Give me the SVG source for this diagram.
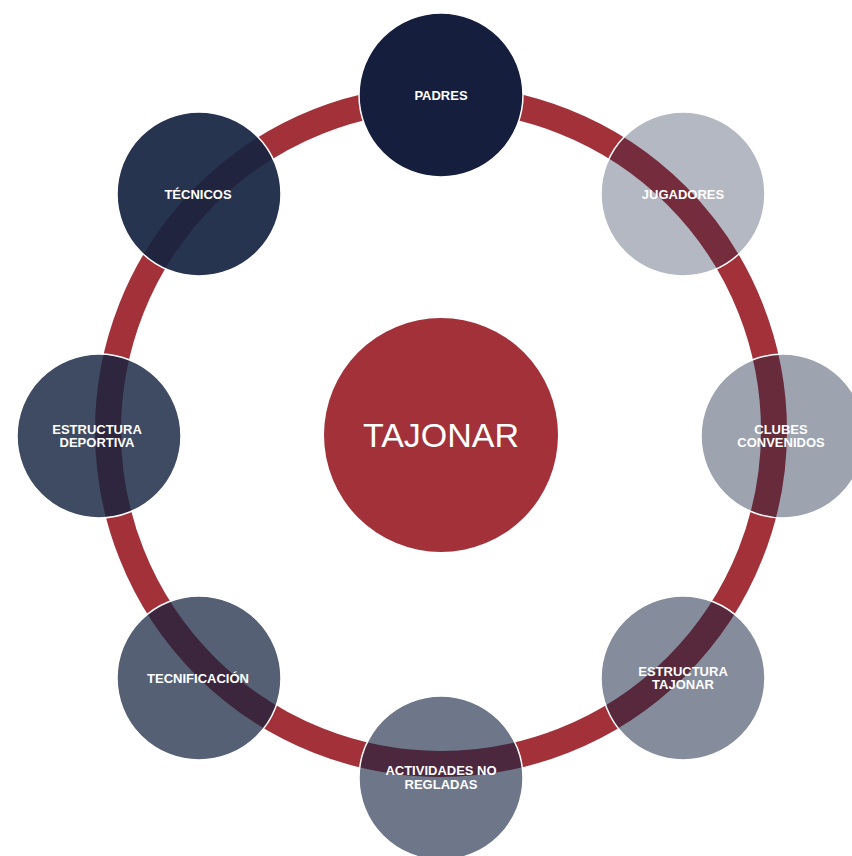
<svg xmlns="http://www.w3.org/2000/svg" width="852" height="856" viewBox="0 0 852 856">
  <style>
    .node { fill: #152340; stroke: #ffffff; stroke-width: 1.5; }
    .lbl { font-family: "Liberation Sans", Arial, sans-serif; font-weight: bold; font-size: 13px; fill: #ffffff; text-anchor: middle; }
    .big { font-family: "Liberation Sans", Arial, sans-serif; font-size: 34px; fill: #ffffff; text-anchor: middle; }
  </style>
  <rect width="852" height="856" fill="#ffffff"/>
  <g id="connectors">
    <circle cx="441" cy="431" r="333" fill="none" stroke="#a2313a" stroke-width="26"/>
  </g>
  <g id="tajonar">
    <circle cx="441" cy="435" r="117" fill="#a2313a"/>
    <text class="big" x="441" y="447">TAJONAR</text>
  </g>
  <g id="padres">
    <circle class="node" cx="441" cy="95" r="82" style="fill:#151e3d"/>
    <text class="lbl" x="441" y="99.5">PADRES</text>
  </g>
  <g id="jugadores">
    <circle class="node" cx="683" cy="194" r="82" fill-opacity="0.32"/>
    <text class="lbl" x="683" y="198.5">JUGADORES</text>
  </g>
  <g id="clubes-convenidos">
    <circle class="node" cx="783" cy="436" r="82" fill-opacity="0.42"/>
    <text class="lbl" x="781" y="433.5">CLUBES</text>
    <text class="lbl" x="781" y="447">CONVENIDOS</text>
  </g>
  <g id="estructura-tajonar">
    <circle class="node" cx="683" cy="678" r="82" fill-opacity="0.52"/>
    <text class="lbl" x="683" y="675.5">ESTRUCTURA</text>
    <text class="lbl" x="683" y="689">TAJONAR</text>
  </g>
  <g id="actividades-no-regladas">
    <circle class="node" cx="441" cy="778" r="82" fill-opacity="0.62"/>
    <text class="lbl" x="441" y="775">ACTIVIDADES NO</text>
    <text class="lbl" x="441" y="788.5">REGLADAS</text>
  </g>
  <g id="tecnificacion">
    <circle class="node" cx="199" cy="678" r="82" fill-opacity="0.72"/>
    <text class="lbl" x="198" y="682.5">TECNIFICACIÓN</text>
  </g>
  <g id="estructura-deportiva">
    <circle class="node" cx="99" cy="436" r="82" fill-opacity="0.82"/>
    <text class="lbl" x="97" y="433.5">ESTRUCTURA</text>
    <text class="lbl" x="97" y="447">DEPORTIVA</text>
  </g>
  <g id="tecnicos">
    <circle class="node" cx="199" cy="194" r="82" fill-opacity="0.92"/>
    <text class="lbl" x="198" y="198.5">TÉCNICOS</text>
  </g>
</svg>
